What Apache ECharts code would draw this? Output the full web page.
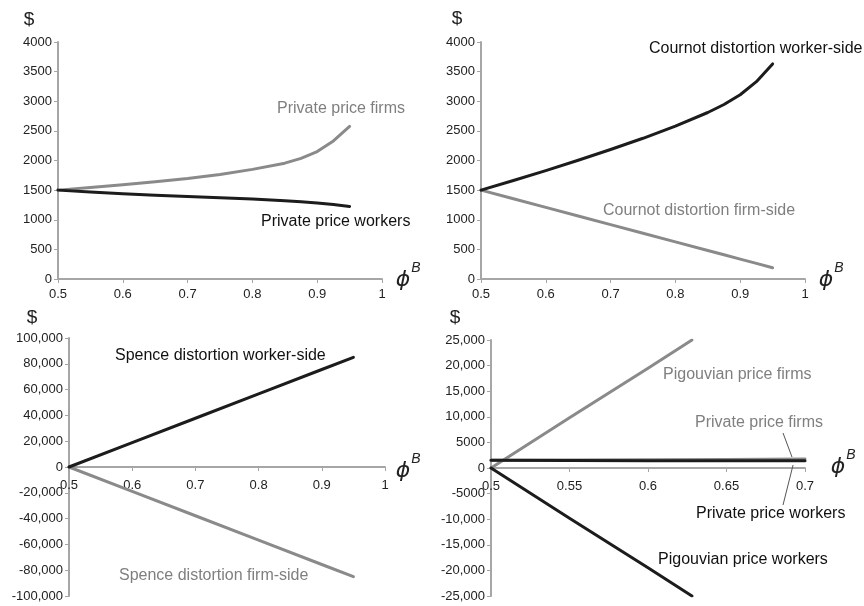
<!DOCTYPE html>
<html>
<head>
<meta charset="utf-8">
<script src="https://cdn.jsdelivr.net/npm/echarts@6/dist/echarts.min.js"></script>
<style>
  html, body { margin: 0; padding: 0; background: #fff; }
  #chart { width: 864px; height: 606px; }
</style>
</head>
<body>
<div id="chart"></div>
<script>
// panel 1: private prices
const privX = [0.5, 0.55, 0.6, 0.65, 0.7, 0.75, 0.8, 0.85, 0.875, 0.9, 0.925, 0.95];
const privFirms = [1500, 1545, 1592, 1640, 1695, 1765, 1850, 1955, 2035, 2150, 2330, 2575];
const privWorkers = [1500, 1468, 1440, 1415, 1392, 1370, 1350, 1322, 1303, 1283, 1256, 1225];

// panel 2: Cournot distortion
const cournotX = [0.5, 0.55, 0.6, 0.65, 0.7, 0.75, 0.8, 0.85, 0.875, 0.9, 0.925, 0.95];
const cournotWorker = [1500, 1662, 1830, 2005, 2185, 2375, 2580, 2810, 2945, 3110, 3330, 3630];
const cournotFirm = [1500, 1355, 1209, 1064, 918, 773, 627, 482, 409, 336, 263, 190];

// panel 3: Spence distortion
const spenceX = [0.5, 0.6, 0.7, 0.8, 0.9, 0.95];
const spenceWorker = [0, 18900, 37800, 56700, 75600, 85000];
const spenceFirm = [0, -18900, -37800, -56700, -75600, -85000];

// panel 4: Pigouvian vs private prices
const pigouX = [0.5, 0.55, 0.6, 0.628];
const pigouFirms = [0, 9800, 19500, 25000];
const pigouWorkers = [0, -9800, -19500, -25000];
const priv4X = [0.5, 0.55, 0.6, 0.65, 0.7];
const priv4Firms = [1500, 1560, 1620, 1680, 1740];
const priv4Workers = [1500, 1468, 1440, 1415, 1392];

const BLACK = "#1c1c1c";
const GRAY = "#8a8a8a";
const FONT = "Liberation Sans, Arial, sans-serif";

const pairs = (xs, ys) => xs.map((x, i) => [x, ys[i]]);

const fmtY = (v) => (Math.abs(v) >= 10000 ? v.toLocaleString("en-US") : String(v));

const grids = [
  { left: 58, top: 42, width: 324, height: 237 },
  { left: 481, top: 42, width: 324, height: 237 },
  { left: 69, top: 338, width: 316, height: 258 },
  { left: 491, top: 340, width: 314, height: 256 },
];

const axisLineStyle = { color: "#a6a6a6", width: 2 };

// offset lifts the x axis to the y=0 line on the lower panels
const xAxisCfg = (gridIndex, min, max, interval, offset, margin) => ({
  type: "value",
  gridIndex,
  min,
  max,
  interval,
  offset: offset || 0,
  axisLine: { show: true, onZero: false, lineStyle: axisLineStyle },
  axisTick: { show: true, length: 4, lineStyle: { color: "#a6a6a6", width: 1 } },
  axisLabel: {
    color: "#222",
    fontSize: 13,
    fontFamily: FONT,
    margin: margin || 9,
    showMinLabel: true,
    showMaxLabel: true,
  },
  splitLine: { show: false },
});

const yAxisCfg = (gridIndex, min, max, interval) => ({
  type: "value",
  gridIndex,
  min,
  max,
  interval,
  axisLine: { show: true, onZero: false, lineStyle: axisLineStyle },
  axisTick: { show: true, length: 4, lineStyle: { color: "#a6a6a6", width: 1 } },
  axisLabel: { color: "#222", fontSize: 13, fontFamily: FONT, margin: 6, formatter: fmtY },
  splitLine: { show: false },
});

const lineSeries = (idx, data, color) => ({
  type: "line",
  xAxisIndex: idx,
  yAxisIndex: idx,
  data,
  showSymbol: false,
  lineStyle: { color, width: 3, join: "round", cap: "round" },
  itemStyle: { color },
  z: color === BLACK ? 3 : 2,
});

const leader = (coords) => ({
  silent: true,
  symbol: ["none", "none"],
  label: { show: false },
  lineStyle: { color: "#555", width: 1, type: "solid" },
  data: coords.map((c) => [{ coord: c[0] }, { coord: c[1] }]),
});

const text = (str, x, y, color, size, extra) => ({
  type: "text",
  style: Object.assign(
    { text: str, x, y, fill: color, font: size + "px " + FONT, verticalAlign: "middle" },
    extra || {}
  ),
});

const phi = (x, y) => [
  text("\u03d5", x, y, "#222", 22, { textAlign: "center", font: "oblique 22px DejaVu Sans" }),
  text("B", x + 13, y - 12, "#222", 14, { textAlign: "center", font: "italic 14px " + FONT }),
];

const dollar = (x, y) => text("$", x, y, "#222", 19, { textAlign: "center" });

const chart = echarts.init(document.getElementById("chart"));

const p4Private = lineSeries(3, pairs(priv4X, priv4Firms), GRAY);
p4Private.markLine = leader([
  [[0.686, 6836], [0.6917, 2148]],
  [[0.6924, 586], [0.686, -7226]],
]);

chart.setOption({
  animation: false,
  backgroundColor: "#fff",
  grid: grids,
  xAxis: [
    xAxisCfg(0, 0.5, 1, 0.1),
    xAxisCfg(1, 0.5, 1, 0.1),
    xAxisCfg(2, 0.5, 1, 0.1, -129, 12),
    xAxisCfg(3, 0.5, 0.7, 0.05, -128, 12),
  ],
  yAxis: [
    yAxisCfg(0, 0, 4000, 500),
    yAxisCfg(1, 0, 4000, 500),
    yAxisCfg(2, -100000, 100000, 20000),
    yAxisCfg(3, -25000, 25000, 5000),
  ],
  series: [
    lineSeries(0, pairs(privX, privFirms), GRAY),
    lineSeries(0, pairs(privX, privWorkers), BLACK),
    lineSeries(1, pairs(cournotX, cournotWorker), BLACK),
    lineSeries(1, pairs(cournotX, cournotFirm), GRAY),
    lineSeries(2, pairs(spenceX, spenceWorker), BLACK),
    lineSeries(2, pairs(spenceX, spenceFirm), GRAY),
    lineSeries(3, pairs(pigouX, pigouFirms), GRAY),
    lineSeries(3, pairs(pigouX, pigouWorkers), BLACK),
    p4Private,
    lineSeries(3, pairs(priv4X, priv4Workers), BLACK),
  ],
  graphic: [
    dollar(29, 20),
    dollar(457, 19),
    dollar(32, 318),
    dollar(455, 318),
    ...phi(403, 280),
    ...phi(826, 280),
    ...phi(403, 471),
    ...phi(838, 467),
    text("Private price firms", 277, 109, "#7f7f7f", 16),
    text("Private price workers", 261, 222, "#111", 16),
    text("Cournot distortion worker-side", 649, 49, "#111", 16),
    text("Cournot distortion firm-side", 603, 211, "#7f7f7f", 16),
    text("Spence distortion worker-side", 115, 356, "#111", 16),
    text("Spence distortion firm-side", 119, 576, "#7f7f7f", 16),
    text("Pigouvian price firms", 663, 375, "#7f7f7f", 16),
    text("Private price firms", 695, 423, "#7f7f7f", 16),
    text("Private price workers", 696, 514, "#111", 16),
    text("Pigouvian price workers", 658, 560, "#111", 16),
  ],
});
</script>
</body>
</html>
